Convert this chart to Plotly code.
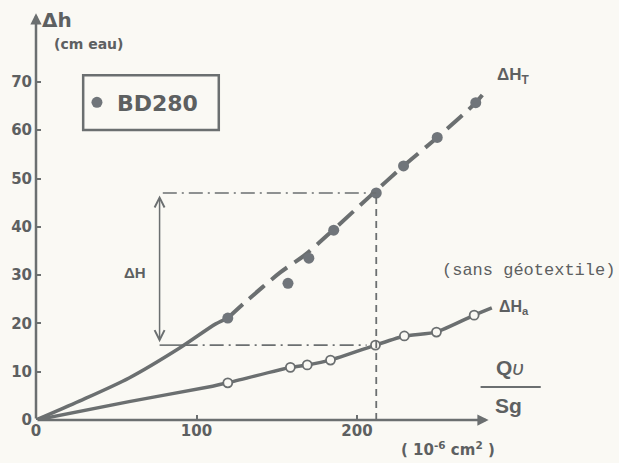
import plotly.graph_objects as go

# ---- data ----
qv_T = [119.5, 157, 170, 185.5, 212, 229, 250, 274]
dh_T = [21.1, 28.3, 33.5, 39.3, 47.0, 52.6, 58.5, 65.7]

qv_a = [119.5, 158.5, 169, 183.5, 211.5, 229.5, 249.5, 273]
dh_a = [7.7, 10.9, 11.4, 12.4, 15.5, 17.4, 18.2, 21.7]

curve_T_solid_x = [0, 27, 58, 89.5, 112, 119.5]
curve_T_solid_y = [0, 3.9, 8.7, 14.9, 19.9, 21.1]
curve_T_dash_x = [119.5, 130, 152, 168, 185, 208, 229, 250, 274, 281]
curve_T_dash_y = [21.1, 24.3, 30.5, 34.3, 39.3, 46.3, 52.6, 58.5, 65.7, 68.5]

curve_a_x = [0, 58, 110, 119.5, 158.5, 169, 183.5, 211.5, 229.5, 249.5, 273, 284]
curve_a_y = [0, 3.8, 7.0, 7.7, 10.9, 11.4, 12.4, 15.5, 17.4, 18.2, 21.7, 23.2]

y_ticks = [0, 10, 20, 30, 40, 50, 60, 70]
x_ticks = [0, 100, 200]

ref_qv = 212
ref_T = 47.0
ref_a = 15.5
dH_x = 77

# ---- style ----
GRAY = "#6b6f70"
TXT = "#5d6061"
BG = "#faf9f4"
SANS = "DejaVu Sans"
ARIAL = "Liberation Sans"

fig = go.Figure()

fig.add_trace(go.Scatter(x=curve_T_solid_x, y=curve_T_solid_y, mode="lines",
                         line=dict(color=GRAY, width=3.5, shape="spline", smoothing=0.8),
                         showlegend=False, hoverinfo="skip"))
fig.add_trace(go.Scatter(x=curve_T_dash_x, y=curve_T_dash_y, mode="lines",
                         line=dict(color=GRAY, width=4, dash="20px,9px", shape="spline", smoothing=0.8),
                         showlegend=False, hoverinfo="skip"))
fig.add_trace(go.Scatter(x=curve_a_x, y=curve_a_y, mode="lines",
                         line=dict(color=GRAY, width=3.5, shape="spline", smoothing=0.5),
                         showlegend=False, hoverinfo="skip"))
fig.add_trace(go.Scatter(x=qv_a, y=dh_a, mode="markers", showlegend=False,
                         marker=dict(symbol="circle", size=9, color=BG, line=dict(color=GRAY, width=1.8)),
                         cliponaxis=False))
fig.add_trace(go.Scatter(x=qv_T, y=dh_T, mode="markers", name="BD280",
                         marker=dict(symbol="circle", size=11, color="#70757a"), cliponaxis=False))

shapes = [
    dict(type="line", xref="x", yref="y", x0=dH_x + 2, x1=ref_qv, y0=ref_T, y1=ref_T,
         line=dict(color=GRAY, width=1.6, dash="14px,5px,2px,5px")),
    dict(type="line", xref="x", yref="y", x0=dH_x, x1=dH_x + 15, y0=ref_a, y1=ref_a,
         line=dict(color=GRAY, width=1.6)),
    dict(type="line", xref="x", yref="y", x0=dH_x + 15, x1=ref_qv - 6, y0=ref_a, y1=ref_a,
         line=dict(color=GRAY, width=1.6, dash="14px,5px,2px,5px")),
    dict(type="line", xref="x", yref="y", x0=ref_qv, x1=ref_qv, y0=0, y1=ref_T,
         line=dict(color=GRAY, width=1.8, dash="7px,5px")),
    # legend frame
    dict(type="rect", xref="paper", yref="paper", x0=0.0812, x1=0.3146, y0=0.699, y1=0.831,
         line=dict(color=GRAY, width=2.5)),
    # fraction bar
    dict(type="line", xref="x", yref="y", x0=277, x1=314.5, y0=6.85, y1=6.85,
         line=dict(color=GRAY, width=2)),
]

ann = [
    # axes with arrows
    dict(x=282, y=0, ax=0, ay=0, xref="x", yref="y", axref="x", ayref="y", text="",
         showarrow=True, arrowhead=2, arrowsize=0.9, arrowwidth=2.5, arrowcolor=GRAY),
    dict(x=0, y=84.2, ax=0, ay=0, xref="x", yref="y", axref="x", ayref="y", text="",
         showarrow=True, arrowhead=2, arrowsize=0.9, arrowwidth=2.5, arrowcolor=GRAY),
    # ΔH double arrow
    dict(x=dH_x, y=ref_T - 0.5, ax=dH_x, ay=ref_a + 0.3, xref="x", yref="y", axref="x", ayref="y",
         text="", showarrow=True, arrowside="end+start", arrowhead=5, startarrowhead=5,
         arrowsize=1.3, startarrowsize=1.3, arrowwidth=1.5, arrowcolor=GRAY),
    dict(x=61.5, y=30.6, xref="x", yref="y", text="<b>ΔH</b>", showarrow=False,
         font=dict(family=ARIAL, size=15, color=TXT)),
    # axis titles
    dict(x=2.3, y=82.8, xref="x", yref="y", text="<b>Δh</b>", showarrow=False, xanchor="left",
         font=dict(family=SANS, size=20, color=TXT)),
    dict(x=9.8, y=77.8, xref="x", yref="y", text="<b>(cm eau)</b>", showarrow=False, xanchor="left",
         font=dict(family=SANS, size=14, color=TXT)),
    dict(x=295.5, y=10.9, xref="x", yref="y", text="<b>Q</b><i>υ</i>", showarrow=False,
         font=dict(family=ARIAL, size=21, color=TXT)),
    dict(x=294.5, y=3.1, xref="x", yref="y", text="<b>Sg</b>", showarrow=False,
         font=dict(family=ARIAL, size=21, color=TXT)),
    dict(x=0.7935, y=-0.07, xref="paper", yref="paper", yanchor="middle",
         text="<b>( 10<sup>-6</sup> cm<sup>2</sup> )</b>",
         showarrow=False, font=dict(family=SANS, size=15, color=TXT)),
    # curve labels
    dict(x=286, y=71.3, xref="x", yref="y", text="<b>ΔH<sub>T</sub></b>", showarrow=False,
         xanchor="left", font=dict(family=ARIAL, size=17, color=TXT)),
    dict(x=287.5, y=23.3, xref="x", yref="y", text="<b>ΔH<sub>a</sub></b>", showarrow=False,
         xanchor="left", font=dict(family=ARIAL, size=16, color=TXT)),
    dict(x=1.0, y=0.361, xref="paper", yref="paper", text="(sans géotextile)", showarrow=False,
         xanchor="right", font=dict(family="Liberation Mono", size=17, color=TXT)),
]

fig.update_layout(
    width=619, height=463,
    margin=dict(l=36, r=2, t=5, b=43),
    paper_bgcolor=BG, plot_bgcolor=BG,
    shapes=shapes, annotations=ann,
    showlegend=True,
    legend=dict(x=0.0705, y=0.765, xanchor="left", yanchor="middle",
                bgcolor="rgba(0,0,0,0)", borderwidth=0,
                font=dict(family=SANS, size=22, color=TXT, weight="bold")),
    xaxis=dict(range=[0, 362], showgrid=False, zeroline=False, showline=False,
               tickmode="array", tickvals=x_ticks, ticktext=[str(v) for v in x_ticks],
               ticks="inside", ticklen=5, tickwidth=2, tickcolor=GRAY,
               tickfont=dict(family=SANS, size=15, color=TXT, weight="bold")),
    yaxis=dict(range=[0, 85.92], showgrid=False, zeroline=False, showline=False,
               tickmode="array", tickvals=y_ticks, ticktext=[str(v) for v in y_ticks],
               ticks="inside", ticklen=5, tickwidth=2, tickcolor=GRAY, ticklabelstandoff=3,
               tickfont=dict(family=SANS, size=15, color=TXT, weight="bold")),
)

fig.write_html("out.html", config={"displayModeBar": False},
               post_script="document.body.style.margin='0';document.body.style.background='%s';" % BG)
